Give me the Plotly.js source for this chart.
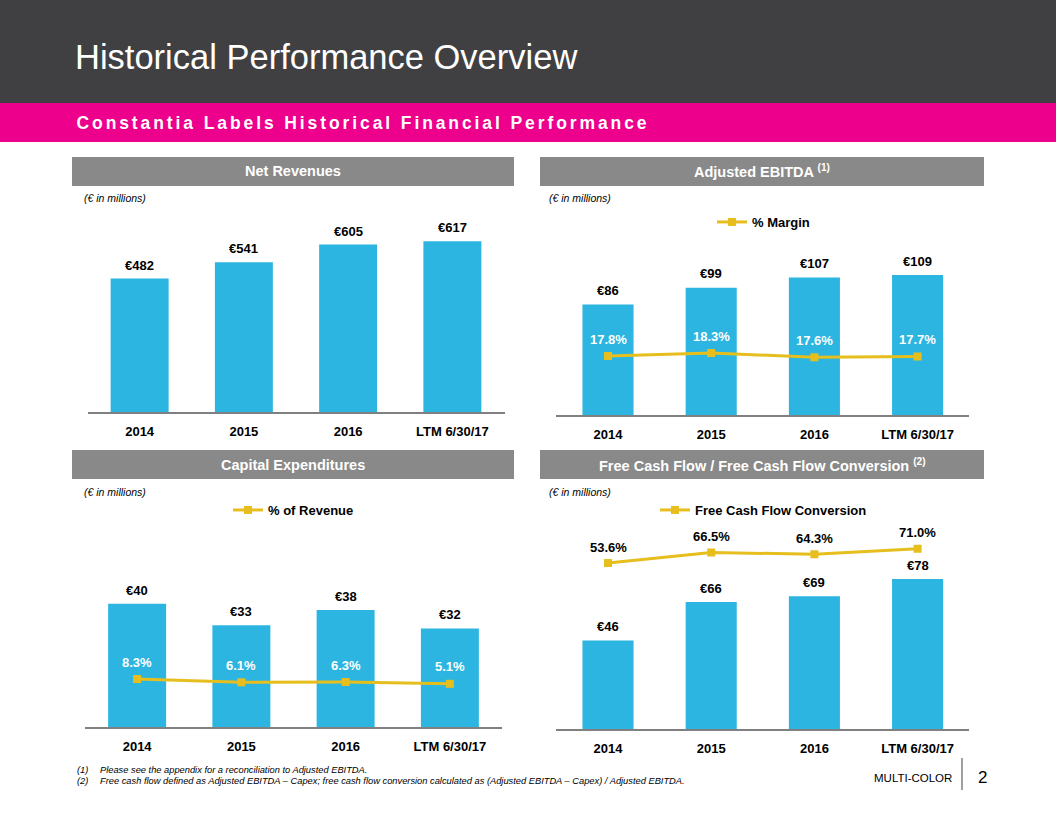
<!DOCTYPE html>
<html>
<head>
<meta charset="utf-8">
<script src="https://cdn.plot.ly/plotly-3.0.1.min.js"></script>
<style>
html,body{margin:0;padding:0;background:#fff;}
#chart{width:1056px;height:816px;}
g.annotation[data-index="1"] text{letter-spacing:2.9px;}
</style>
</head>
<body>
<div id="chart"></div>
<script>
// ---- data ----
const categories = ['2014', '2015', '2016', 'LTM 6/30/17'];
const netRevenues = [482, 541, 605, 617];
const adjEbitda = [86, 99, 107, 109];
const ebitdaMargin = [17.8, 18.3, 17.6, 17.7];
const capex = [40, 33, 38, 32];
const capexPctRevenue = [8.3, 6.1, 6.3, 5.1];
const freeCashFlow = [46, 66, 69, 78];
const fcfConversion = [53.6, 66.5, 64.3, 71.0];

const panelTitles = ['Net Revenues', 'Adjusted EBITDA <sup>(1)</sup>', 'Capital Expenditures', 'Free Cash Flow / Free Cash Flow Conversion <sup>(2)</sup>'];
const legendNames = ['% Margin', '% of Revenue', 'Free Cash Flow Conversion'];
const unitsNote = '(€ in millions)';
const footnotes = [
  ['(1)', 'Please see the appendix for a reconciliation to Adjusted EBITDA.'],
  ['(2)', 'Free cash flow defined as Adjusted EBITDA – Capex; free cash flow conversion calculated as (Adjusted EBITDA – Capex) / Adjusted EBITDA.']
];

// ---- helpers ----
const W = 1056, H = 816;
const fx = x => x / W;
const fy = y => 1 - y / H;
const FONT = 'Liberation Sans, Arial, Helvetica, sans-serif';
const BLUE = '#2BB5E0';
const GOLD = '#E6BE1E';
const euro = v => '€' + v;
const pct = v => v.toFixed(1) + '%';

const traces = [];
function barTrace(vals, xa, ya, width) {
  return {type: 'bar', x: categories, y: vals, xaxis: xa, yaxis: ya, width: width,
    marker: {color: BLUE, line: {width: 0}}, showlegend: false, hoverinfo: 'skip'};
}
function lineTrace(vals, xa, ya, name, legend) {
  return {type: 'scatter', mode: 'lines+markers', x: categories, y: vals, xaxis: xa, yaxis: ya,
    name: name, legend: legend, line: {color: GOLD, width: 3},
    marker: {symbol: 'square', size: 8, color: GOLD}, hoverinfo: 'skip'};
}
traces.push(barTrace(netRevenues, 'x', 'y', 0.556));
traces.push(barTrace(adjEbitda, 'x2', 'y2', 0.495));
traces.push(lineTrace(ebitdaMargin, 'x2', 'y5', legendNames[0], 'legend'));
traces.push(barTrace(capex, 'x3', 'y3', 0.556));
traces.push(lineTrace(capexPctRevenue, 'x3', 'y6', legendNames[1], 'legend2'));
traces.push(barTrace(freeCashFlow, 'x4', 'y4', 0.495));
traces.push(lineTrace(fcfConversion, 'x4', 'y7', legendNames[2], 'legend3'));

function xAxis(l, r, anchor, standoff) {
  return {type: 'category', anchor: anchor, domain: [fx(l), fx(r)], range: [-0.5, 3.5], showline: true,
    linecolor: '#808080', linewidth: 1.5, ticks: '', showgrid: false, zeroline: false,
    tickfont: {family: FONT, size: 13, color: '#000', weight: 'bold'},
    ticklabelstandoff: standoff, fixedrange: true};
}
function yAxis(top, bottom, range, anchor, overlay) {
  const a = {anchor: anchor, domain: [fy(bottom), fy(top)], range: range, visible: false, showgrid: false,
    zeroline: false, fixedrange: true};
  if (overlay) { a.overlaying = overlay; }
  return a;
}

const annotations = [];
function paperText(text, x, y, opts) {
  annotations.push(Object.assign({text: text, xref: 'paper', yref: 'paper', x: fx(x), y: fy(y),
    xanchor: 'left', yanchor: 'middle', showarrow: false,
    font: {family: FONT, size: 12, color: '#000'}}, opts || {}));
}
// 0 title, 1 subtitle (letter-spaced, so centred on its span)
paperText('Historical Performance Overview', 73, 57, {font: {family: FONT, size: 34.5, color: '#fff'}});
paperText('Constantia Labels Historical Financial Performance', 363, 123,
  {xanchor: 'center', font: {family: FONT, size: 17.5, color: '#fff', weight: 'bold'}});
// panel headers
const panelCenters = [[293, 171], [762, 171], [293, 465], [762, 465]];
panelTitles.forEach((t, i) => paperText(t, panelCenters[i][0], panelCenters[i][1],
  {xanchor: 'center', font: {family: FONT, size: 14.5, color: '#fff', weight: 'bold'}}));
// units notes
[[82, 198], [547, 198], [82, 492], [547, 492]].forEach(p => paperText('<i>' + unitsNote + '</i>', p[0], p[1],
  {font: {family: FONT, size: 10.5, color: '#000'}}));
// footnotes
footnotes.forEach((f, i) => {
  const y = 769.5 + i * 11;
  paperText('<i>' + f[0] + '</i>', 75, y, {font: {family: FONT, size: 9.3, color: '#000'}});
  paperText('<i>' + f[1] + '</i>', 98, y, {font: {family: FONT, size: 9.3, color: '#000'}});
});
paperText('MULTI-COLOR', 954, 778, {xanchor: 'right', font: {family: FONT, size: 11.5, color: '#000'}});
paperText('2', 976, 777, {font: {family: FONT, size: 17, color: '#000'}});

// data labels (x given as category index on the category axis)
function dataLabels(vals, xa, ya, fmt, shift, color) {
  vals.forEach((v, i) => annotations.push({text: fmt(v), x: i, y: v, xref: xa, yref: ya,
    yanchor: 'middle', yshift: shift, showarrow: false,
    font: {family: FONT, size: 13, color: color, weight: 'bold'}}));
}
dataLabels(netRevenues, 'x', 'y', euro, 13.5, '#000');
dataLabels(adjEbitda, 'x2', 'y2', euro, 14, '#000');
dataLabels(ebitdaMargin, 'x2', 'y5', pct, 17, '#fff');
dataLabels(capex, 'x3', 'y3', euro, 13.5, '#000');
dataLabels(capexPctRevenue, 'x3', 'y6', pct, 17, '#fff');
dataLabels(freeCashFlow, 'x4', 'y4', euro, 13.5, '#000');
dataLabels(fcfConversion, 'x4', 'y7', pct, 16, '#000');

function rect(x0, y0, x1, y1, color) {
  return {type: 'rect', xref: 'paper', yref: 'paper', x0: fx(x0), x1: fx(x1), y0: fy(y1), y1: fy(y0),
    fillcolor: color, line: {width: 0}, layer: 'below'};
}
const shapes = [
  rect(0, 0, 1056, 103, '#404042'),
  rect(0, 103, 1056, 142, '#EC008C'),
  rect(72, 157, 514, 186, '#898989'),
  rect(540, 157, 984, 186, '#898989'),
  rect(72, 450, 514, 479, '#898989'),
  rect(540, 450, 984, 479, '#898989'),
  {type: 'line', xref: 'paper', yref: 'paper', x0: fx(962), x1: fx(962), y0: fy(790), y1: fy(758),
    line: {color: '#404040', width: 1}}
];

function legendAt(x, y) {
  return {x: fx(x), y: fy(y), xanchor: 'left', yanchor: 'middle', bgcolor: 'rgba(0,0,0,0)',
    borderwidth: 0, font: {family: FONT, size: 13, color: '#000', weight: 'bold'}, itemwidth: 30};
}

const layout = {
  width: W, height: H, margin: {l: 0, r: 0, t: 0, b: 0}, paper_bgcolor: '#fff', plot_bgcolor: 'rgba(0,0,0,0)',
  font: {family: FONT},
  showlegend: true,
  xaxis: xAxis(87.5, 504.5, 'y', 7),
  xaxis2: xAxis(556.4, 969.2, 'y2', 7),
  xaxis3: xAxis(85, 502, 'y3', 7),
  xaxis4: xAxis(556.4, 969.2, 'y4', 7),
  yaxis: yAxis(200, 412, [0, 766], 'x'),
  yaxis2: yAxis(200, 415, [0, 167.4], 'x2'),
  yaxis3: yAxis(490, 727, [0, 76.9], 'x3'),
  yaxis4: yAxis(490, 729, [0, 124.2], 'x4'),
  yaxis5: yAxis(200, 415, [7.97, 43.8], 'x2', 'y2'),
  yaxis6: yAxis(490, 727, [-23.7, 134.3], 'x3', 'y3'),
  yaxis7: yAxis(490, 729, [-148.8, 142.7], 'x4', 'y4'),
  legend: legendAt(712, 222),
  legend2: legendAt(228, 510),
  legend3: legendAt(655, 510),
  shapes: shapes,
  annotations: annotations
};

Plotly.newPlot('chart', traces, layout, {staticPlot: true, displayModeBar: false});
</script>
</body>
</html>
